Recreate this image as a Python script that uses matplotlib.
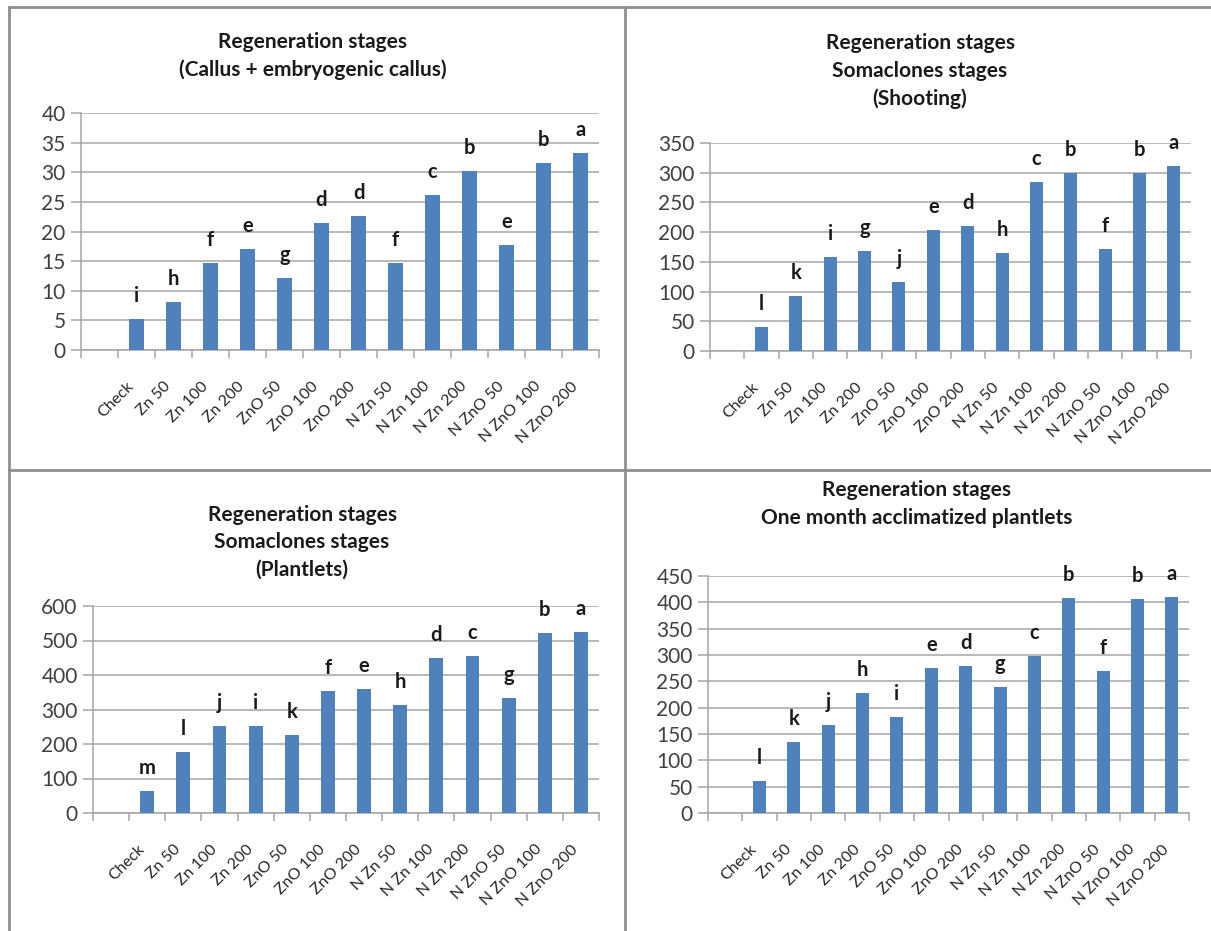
import matplotlib.pyplot as plt
import numpy as np
from matplotlib.lines import Line2D

plt.rcParams['font.family'] = ['Lato', 'DejaVu Sans']

# === Data ===
categories = ["Check", "Zn 50", "Zn 100", "Zn 200", "ZnO 50", "ZnO 100", "ZnO 200",
              "N Zn 50", "N Zn 100", "N Zn 200", "N ZnO 50", "N ZnO 100", "N ZnO 200"]

callus = [5.2, 8.1, 14.7, 17.1, 12.1, 21.5, 22.6, 14.7, 26.1, 30.2, 17.8, 31.6, 33.3]
callus_letters = ["i", "h", "f", "e", "g", "d", "d", "f", "c", "b", "e", "b", "a"]

shooting = [41, 93, 159, 169, 116, 204, 211, 165, 284, 300, 171, 300, 311]
shooting_letters = ["l", "k", "i", "g", "j", "e", "d", "h", "c", "b", "f", "b", "a"]

plantlets = [64, 176, 253, 253, 226, 355, 359, 313, 448, 454, 332, 521, 524]
plantlets_letters = ["m", "l", "j", "i", "k", "f", "e", "h", "d", "c", "g", "b", "a"]

acclim = [60, 134, 167, 228, 182, 276, 280, 239, 298, 409, 269, 406, 410]
acclim_letters = ["l", "k", "j", "h", "i", "e", "d", "g", "c", "b", "f", "b", "a"]

titles = [
    "Regeneration stages\n(Callus + embryogenic callus)",
    "Regeneration stages\nSomaclones stages\n(Shooting)",
    "Regeneration stages\nSomaclones stages\n(Plantlets)",
    "Regeneration stages\nOne month acclimatized plantlets",
]

# === Layout (pixels of a 1211x931 canvas) ===
W, H = 1211, 931
BAR = '#4F81BD'
GRID = '#A6A6A6'
FRAME = '#8F8F8F'

fig = plt.figure(figsize=(W / 100, H / 100), dpi=100)


def px_rect(x0, x1, ytop, ybot):
    return [x0 / W, 1 - ybot / H, (x1 - x0) / W, (ybot - ytop) / H]


def draw_panel(rect, values, letters, ymax, step, title, title_xy):
    ax = fig.add_axes(px_rect(*rect))
    x = np.arange(1, len(categories) + 1)  # first slot is left empty, as in the original sheet
    ax.bar(x, values, width=0.38, color=BAR, zorder=3)
    for xi, v, lab in zip(x, values, letters):
        ax.annotate(lab, xy=(xi, v), xytext=(0, 23), textcoords='offset pixels',
                    ha='center', va='center', fontsize=14.5, fontweight='bold',
                    color='#1a1a1a', zorder=4)

    ax.set_xlim(-0.5, len(categories) + 0.5)
    ax.set_ylim(0, ymax)
    ax.set_yticks(np.arange(0, ymax + step / 2, step))
    ax.yaxis.grid(True, color=GRID, linewidth=1.1, zorder=0)
    ax.set_axisbelow(True)

    ax.set_xticks(x)
    ax.set_xticklabels(categories, rotation=45, ha='right', va='top',
                       fontsize=11.5, color='#262626')
    ax.set_xticks(np.arange(-0.5, len(categories) + 1), minor=True)
    ax.tick_params(axis='x', which='major', length=0, pad=21)
    ax.tick_params(axis='x', which='minor', length=6, width=1.1, color=GRID)
    ax.tick_params(axis='y', length=7, width=1.1, color=GRID, labelsize=15,
                   labelcolor='#404040', pad=4)

    for s in ['top', 'right']:
        ax.spines[s].set_visible(False)
    for s in ['left', 'bottom']:
        ax.spines[s].set_color(GRID)
        ax.spines[s].set_linewidth(1.1)

    fig.text(title_xy[0] / W, 1 - title_xy[1] / H, title, ha='center', va='center',
             fontsize=15, fontweight='bold', color='#1a1a1a', linespacing=1.45)
    return ax


draw_panel((81, 599, 113, 350), callus, callus_letters, 40, 5, titles[0], (313, 56))
draw_panel((710, 1191, 143, 351), shooting, shooting_letters, 350, 50, titles[1], (920, 71))
draw_panel((93, 599, 606, 813), plantlets, plantlets_letters, 600, 100, titles[2], (302, 542))
draw_panel((708, 1189, 576, 813), acclim, acclim_letters, 450, 50, titles[3], (917, 504))

# === Panel frame lines ===
frame_lines = [
    ((9, W), (7, 7)),        # top
    ((9, 9), (7, H)),        # left
    ((625, 625), (7, H)),    # vertical divider
    ((9, W), (470, 470)),    # horizontal divider
]
for xs, ys in frame_lines:
    fig.add_artist(Line2D([v / W for v in xs], [1 - v / H for v in ys],
                          color=FRAME, linewidth=2.0))

plt.savefig("out.png", dpi=100)
